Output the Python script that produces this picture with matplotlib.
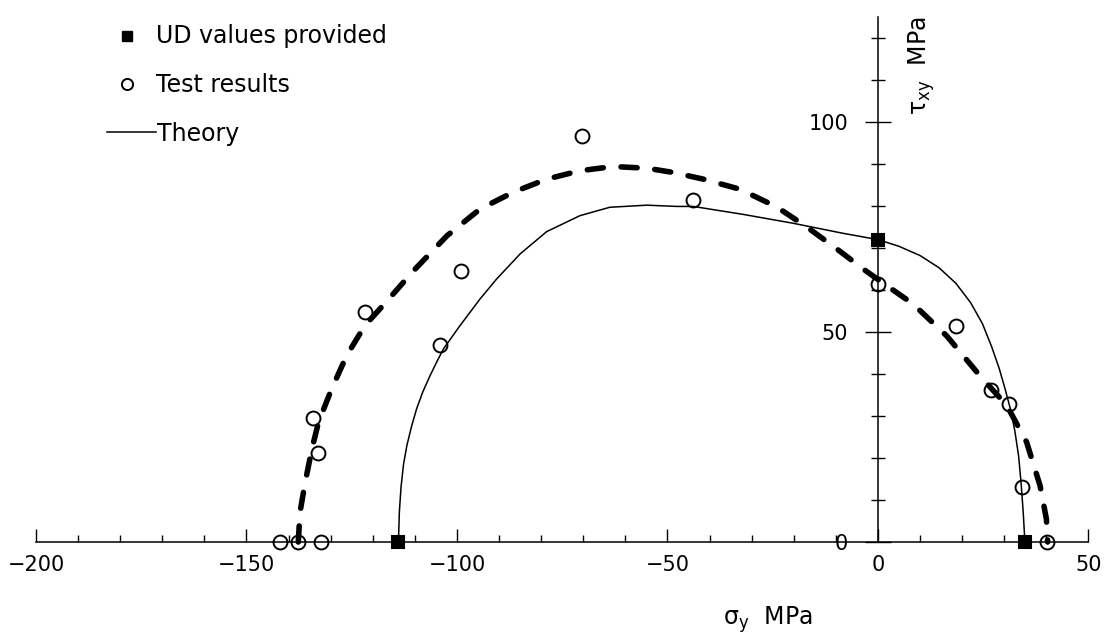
import matplotlib
matplotlib.use("Agg")
import matplotlib.pyplot as plt
from matplotlib.lines import Line2D
from matplotlib.ticker import MultipleLocator, FixedLocator

# ---- data (sigma_y, tau_xy) in MPa ----
ud_sigma = [-114, 0, 35]
ud_tau = [0, 72, 0]

test_sigma = [-142, -137.7, -132.3, -132.9, -134.1, -121.9, -104.0, -99.1,
              -70.4, -43.9, 0.0, 18.5, 26.8, 31.1, 34.1, 40.1]
test_tau = [0, 0, 0, 21.2, 29.5, 54.7, 46.9, 64.6,
            96.6, 81.4, 61.4, 51.5, 36.3, 32.9, 13.2, 0]

theory_sigma = [-113.9, -113.7, -113.3, -112.7, -111.9, -110.8, -109.6, -108.1,
                -106.4, -104.8, -103.2, -99.3, -94.5, -90.6, -85.0, -78.7,
                -70.8, -63.7, -54.9, -47.8, -43.9, -32.0, -20.2, -8.3, 0.0,
                5.0, 10.0, 14.5, 18.5, 22.0, 24.8, 27.0, 28.8, 30.2, 31.5,
                32.5, 33.4, 34.0, 34.5, 34.9]
theory_tau = [0, 7.0, 13.0, 18.5, 23.0, 27.5, 31.7, 35.8,
              39.6, 42.9, 46.0, 51.5, 57.9, 62.6, 68.6, 73.9,
              77.7, 79.7, 80.2, 79.9, 79.9, 78.0, 75.9, 73.5, 72.0,
              70.4, 68.2, 65.3, 61.6, 57.0, 52.0, 46.5, 41.3, 36.4, 31.5,
              26.5, 20.5, 14.0, 7.0, 0]

fit_sigma = [-137.7, -137.3, -136.1, -134.5, -132.9, -129.8, -126.2, -121.9,
             -115.9, -110.4, -102.4, -94.5, -86.6, -78.7, -70.8, -62.9, -54.9,
             -48.7, -41.5, -32.8, -24.1, -16.9, -9.8, -3.5, 0.0, 8.3, 16.3,
             24.2, 30.6, 35.3, 38.5, 40.0, 40.3]
fit_tau = [0, 7, 14, 22, 28.5, 36.4, 44.4, 51.5,
           58.2, 64.5, 72.9, 79.3, 83.3, 86.4, 88.4, 89.4, 89.0,
           88.0, 86.4, 84.0, 79.8, 75.0, 69.8, 65.0, 62.5, 56.7, 49.1,
           39.6, 32.5, 23.8, 13.4, 5.5, 0]

x_major = [-200, -150, -100, -50, 0, 50]
y_major = [0, 50, 100]
legend_labels = ["UD values provided", "Test results", "Theory"]

# ---- figure ----
W, H = 1106, 641
fig = plt.figure(figsize=(W / 100, H / 100), dpi=100)
ax = fig.add_axes([0, 0, 1, 1])
ax.set_xlim(-208.55, 54.16)
ax.set_ylim(-23.57, 129.05)
ax.patch.set_alpha(0)

for side in ("top", "right"):
    ax.spines[side].set_visible(False)
ax.spines["left"].set_position(("data", 0))
ax.spines["bottom"].set_position(("data", 0))
ax.spines["left"].set_bounds(0, 125)
ax.spines["bottom"].set_bounds(-200, 50)
for side in ("left", "bottom"):
    ax.spines[side].set_linewidth(1.1)

ax.xaxis.set_major_locator(FixedLocator(x_major))
ax.xaxis.set_minor_locator(MultipleLocator(10))
ax.yaxis.set_major_locator(FixedLocator(y_major))
ax.yaxis.set_minor_locator(FixedLocator(range(10, 121, 10)))

ax.tick_params(axis="x", which="major", direction="in", length=9.5, width=1.0,
               labelsize=15, pad=9)
ax.tick_params(axis="x", which="minor", direction="in", length=5, width=1.0)
ax.tick_params(axis="y", which="major", direction="inout", length=19, width=1.0,
               labelsize=15, pad=12)
ax.tick_params(axis="y", which="minor", direction="inout", length=10, width=1.0)
ax.set_xticklabels([f"{v}".replace("-", "\u2212") for v in x_major])
ax.set_yticklabels([str(v) for v in y_major])

# curves
ax.plot(fit_sigma, fit_tau, color="black", lw=4.0, linestyle=(0, (2.9, 3.2)),
        dash_capstyle="round", solid_capstyle="round")
ax.plot(theory_sigma, theory_tau, color="black", lw=1.1)

# points
ax.plot(test_sigma, test_tau, linestyle="none", marker="o", ms=10,
        mfc="none", mec="black", mew=1.4, clip_on=False)
ax.plot(ud_sigma, ud_tau, linestyle="none", marker="s", ms=9,
        mfc="black", mec="black", mew=1.5, clip_on=False)

# axis titles
def fx(px):
    return px / W

def fy(py):
    return 1 - py / H

fig.text(fx(768), fy(620), "\u03c3$_\\mathregular{y}$  MPa", fontsize=17,
         ha="center", va="center")
fig.text(fx(922), fy(66), "\u03c4$_\\mathregular{xy}$  MPa", fontsize=17,
         ha="center", va="center", rotation=90)

# key
fig.add_artist(Line2D([fx(127)], [fy(36)], marker="s", ms=7.5, color="black",
                      linestyle="none", transform=fig.transFigure))
fig.add_artist(Line2D([fx(127)], [fy(84)], marker="o", ms=8, mfc="none",
                      mec="black", mew=1.4, linestyle="none",
                      transform=fig.transFigure))
fig.add_artist(Line2D([fx(107), fx(156)], [fy(132), fy(132)], color="black",
                      lw=1.1, transform=fig.transFigure))
key_rows = [(156, 43), (156, 92), (157, 141)]
for (tx, ty), label in zip(key_rows, legend_labels):
    fig.text(fx(tx), fy(ty), label, fontsize=17, ha="left", va="baseline")

fig.savefig("out.png", dpi=100)
